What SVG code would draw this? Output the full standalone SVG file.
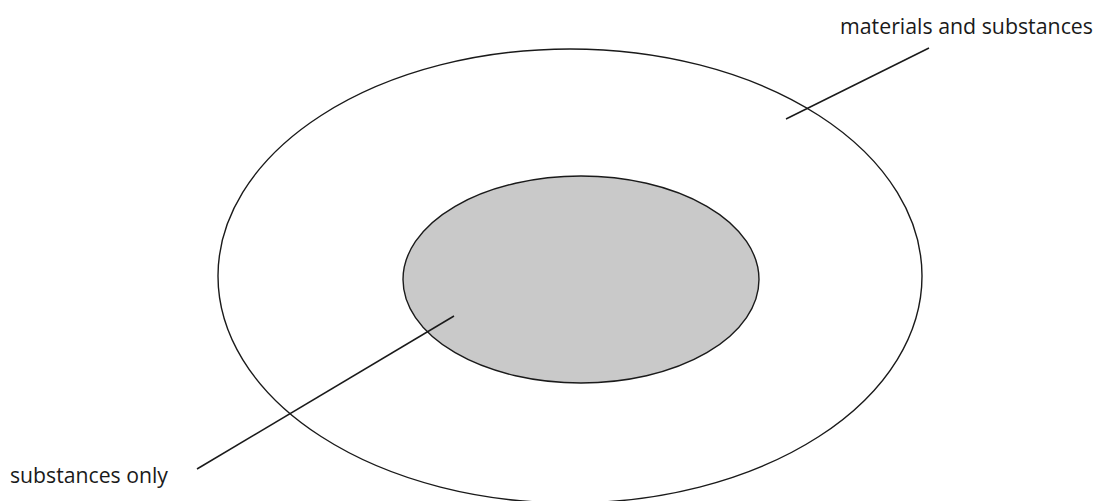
<svg xmlns="http://www.w3.org/2000/svg" width="1096" height="501" viewBox="0 0 1096 501">
<style>
.shape{stroke:#1a1a1a;stroke-width:1.4}
.lbl{font-family:"Open Sans","Liberation Sans",sans-serif;font-size:21px;fill:#1a1a1a}
.conn line{stroke:#1a1a1a;stroke-width:1.5}
</style>
<rect width="1096" height="501" fill="#ffffff"/>
<g id="outer">
<ellipse class="shape" cx="570" cy="276" rx="352" ry="227" fill="none"/>
</g>
<g id="inner">
<ellipse class="shape" cx="581" cy="279.5" rx="178" ry="103.5" fill="#c9c9c9"/>
</g>
<g id="connectors" class="conn">
<line x1="786" y1="119" x2="929" y2="48"/>
<line x1="454" y1="316" x2="197" y2="469"/>
</g>
<g id="label-materials">
<text class="lbl" x="840" y="34" textLength="253" lengthAdjust="spacingAndGlyphs">materials and substances</text>
</g>
<g id="label-substances">
<text class="lbl" x="10" y="483" textLength="158" lengthAdjust="spacingAndGlyphs">substances only</text>
</g>
</svg>
